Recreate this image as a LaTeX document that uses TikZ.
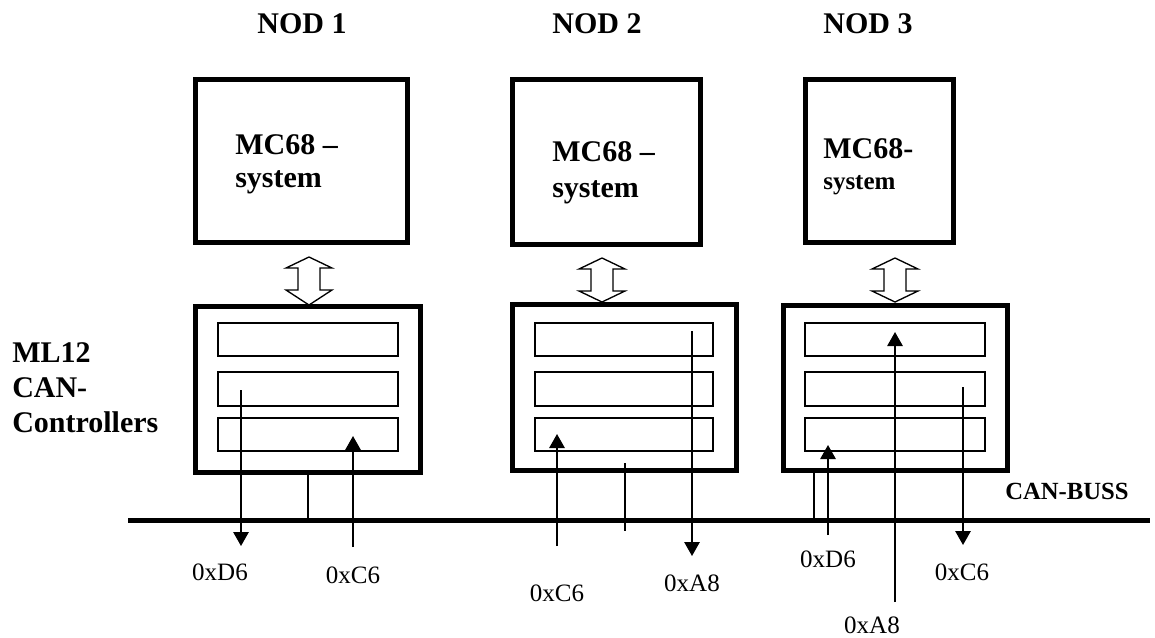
\documentclass[tikz,border=0pt]{standalone}
\usepackage{fontspec}
\setmainfont{Liberation Serif}
\usetikzlibrary{arrows.meta}
\newcommand\mydblarrow[5]{%
  \draw[dblarr] (#1,#2) -- (#1+23,#3) -- (#1+11,#3) -- (#1+11,#4) -- (#1+23,#4) -- (#1,#5)
     -- (#1-23,#4) -- (#1-11,#4) -- (#1-11,#3) -- (#1-23,#3) -- cycle;}
\begin{document}
\begin{tikzpicture}[x=0.75pt,y=-0.75pt,
  bigbox/.style={draw,line width=3.75pt,inner sep=0pt},
  regbox/.style={draw,line width=1.6pt,inner sep=0pt},
  title/.style={font=\fontsize{22.5}{27}\selectfont\bfseries,inner sep=0pt,anchor=base},
  boxtxt/.style={font=\fontsize{22.5}{27}\selectfont\bfseries,inner sep=0pt,anchor=base west},
  hexlbl/.style={font=\fontsize{18.75}{22}\selectfont,inner sep=0pt},
  sig/.style={line width=1.4pt,-{Triangle[width=11.5pt,length=10.5pt]}},
  stub/.style={line width=1.5pt},
  bus/.style={line width=3.75pt},
  dblarr/.style={line width=1pt,fill=white,line join=miter}]
\useasboundingbox (0,0) rectangle (1155,637);

% titles
\node[title] (t1) at (302,33) {NOD 1};
\node[title] (t2) at (597,33) {NOD 2};
\node[title] (t3) at (868,33) {NOD 3};

% MC68 boxes
\node[bigbox,minimum width=212*0.75pt,minimum height=163*0.75pt] (mc1) at ({(195.5+407.5)/2},{(79.5+242.5)/2}) {};
\node[bigbox,minimum width=188*0.75pt,minimum height=165*0.75pt] (mc2) at ({(512.5+700.5)/2},{(79.5+244.5)/2}) {};
\node[bigbox,minimum width=148*0.75pt,minimum height=163*0.75pt] (mc3) at ({(805.5+953.5)/2},{(79.5+242.5)/2}) {};

\node[boxtxt] (mc1a) at (235,154) {MC68 –};
\node[boxtxt] (mc1b) at (235,187) {system};
\node[boxtxt] (mc2a) at (552,161) {MC68 –};
\node[boxtxt] (mc2b) at (552,197) {system};
\node[boxtxt] (mc3a) at (823,158) {MC68-};
\node[boxtxt,font=\fontsize{18.75}{22}\selectfont\bfseries] (mc3b) at (823,189) {system};

% controller boxes
\node[bigbox,minimum width=225*0.75pt,minimum height=166*0.75pt] (c1) at ({(195.5+420.5)/2},{(306.5+472.5)/2}) {};
\node[bigbox,minimum width=224*0.75pt,minimum height=166*0.75pt] (c2) at ({(512.5+736.5)/2},{(304.5+470.5)/2}) {};
\node[bigbox,minimum width=224*0.75pt,minimum height=165*0.75pt] (c3) at ({(783.5+1007.5)/2},{(305.5+470.5)/2}) {};

% registers
\foreach \n/\xa/\xb in {1/218/398, 2/535/713, 3/805/985}{
  \node[regbox,minimum width={(\xb-\xa)*0.75pt},minimum height=33*0.75pt] (r\n a) at ({(\xa+\xb)/2},339.5) {};
  \node[regbox,minimum width={(\xb-\xa)*0.75pt},minimum height=34*0.75pt] (r\n b) at ({(\xa+\xb)/2},389) {};
  \node[regbox,minimum width={(\xb-\xa)*0.75pt},minimum height=33*0.75pt] (r\n c) at ({(\xa+\xb)/2},434.5) {};
}

% double arrows
\mydblarrow{309}{257}{268}{290}{305}
\mydblarrow{602}{258}{269}{291}{302}
\mydblarrow{895}{258}{269}{291}{302}

% left label
\node[boxtxt] (ml1) at (12,362) {ML12};
\node[boxtxt] (ml2) at (12,397) {CAN-};
\node[boxtxt] (ml3) at (12,432) {Controllers};

% bus
\coordinate (busL) at (128,520.5);
\coordinate (busR) at (1150,520.5);
\draw[bus] (busL) -- (busR);
\node[font=\fontsize{18.5}{22}\selectfont\bfseries,inner sep=0pt,anchor=base west] (busl) at (1005,499) {CAN-BUSS};

% stubs
\coordinate (s1) at (308,520.5);
\draw[stub] (c1.south -| s1) -- (s1);
\coordinate (s2a) at (625,463);
\coordinate (s2b) at (625,531);
\draw[stub] (s2a) -- (s2b);
\coordinate (s3) at (814,520.5);
\draw[stub] (c3.south -| s3) -- (s3);

% signal arrows node 1
\coordinate (a1s) at (241,390); \coordinate (a1e) at (241,546);
\draw[sig] (a1s) -- (a1e);
\coordinate (b1s) at (353,547); \coordinate (b1e) at (353,436);
\draw[sig] (b1s) -- (b1e);
% node 2
\coordinate (a2s) at (557,546); \coordinate (a2e) at (557,434);
\draw[sig] (a2s) -- (a2e);
\coordinate (b2s) at (692,331); \coordinate (b2e) at (692,556);
\draw[sig] (b2s) -- (b2e);
% node 3
\coordinate (a3s) at (828,535); \coordinate (a3e) at (828,445);
\draw[sig] (a3s) -- (a3e);
\coordinate (b3s) at (895,602); \coordinate (b3e) at (895,332);
\draw[sig] (b3s) -- (b3e);
\coordinate (c3s) at (963,387); \coordinate (c3e) at (963,545);
\draw[sig] (c3s) -- (c3e);

% hex labels
\node[hexlbl] (h1) at (220,572) {0xD6};
\node[hexlbl] (h2) at (353,575) {0xC6};
\node[hexlbl] (h3) at (557,593) {0xC6};
\node[hexlbl] (h4) at (692,583) {0xA8};
\node[hexlbl] (h5) at (828,559) {0xD6};
\node[hexlbl] (h6) at (962,572) {0xC6};
\node[hexlbl] (h7) at (872,625) {0xA8};
\end{tikzpicture}
\end{document}
